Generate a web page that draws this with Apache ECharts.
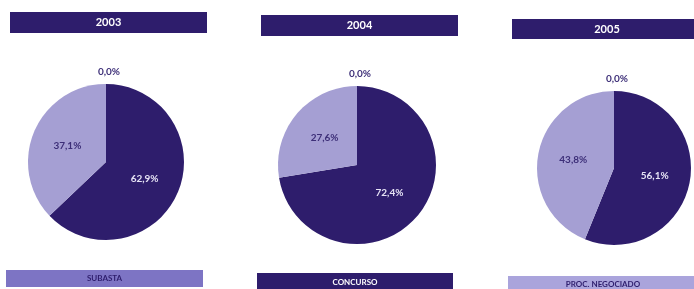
<!DOCTYPE html>
<html>
<head>
<meta charset="utf-8">
<script src="https://cdn.jsdelivr.net/npm/echarts@6/dist/echarts.min.js"></script>
<style>
  html, body { margin: 0; padding: 0; background: #fff; }
  #chart { width: 694px; height: 289px; }
</style>
</head>
<body>
<div id="chart"></div>
<script>
// data (percent)
const years = ['2003', '2004', '2005'];
const categories = ['CONCURSO', 'SUBASTA', 'PROC. NEGOCIADO'];
const concurso = [62.9, 72.4, 56.1];
const subasta = [37.1, 27.6, 43.8];
const negociado = [0.0, 0.0, 0.0];

const DARK = '#2e1d6c';
const LIGHT = '#a59fd3';
const FONT = 'Lato, "Open Sans", sans-serif';

const centers = [[106, 162], [357, 165], [614, 168]];
const radii = [78, 79, 77];
const titleBoxes = [[10, 12, 197, 21], [261, 15, 197, 21], [512, 19, 190, 20]];
const legendBoxes = [
  { name: 'SUBASTA', box: [6, 270, 197, 17], fill: '#7d74c4', color: DARK },
  { name: 'CONCURSO', box: [257, 273, 196, 18], fill: DARK, color: '#fff' },
  { name: 'PROC. NEGOCIADO', box: [508, 276, 190, 16], fill: '#aaa4dc', color: DARK }
];

const fmt = v => v.toFixed(1).replace('.', ',') + '%';

const chart = echarts.init(document.getElementById('chart'));

const series = years.map((y, i) => ({
  type: 'pie',
  name: y,
  center: centers[i],
  radius: radii[i],
  startAngle: 90,
  clockwise: true,
  silent: true,
  avoidLabelOverlap: false,
  minShowLabelAngle: 0,
  label: {
    show: true,
    position: 'inside',
    formatter: p => fmt(p.value),
    fontFamily: FONT,
    fontSize: 10,
    fontWeight: 'bold'
  },
  labelLine: { show: false },
  labelLayout: p => p.dataIndex === 2
    ? { x: centers[i][0] + 3, y: centers[i][1] - radii[i] - 12, align: 'center', verticalAlign: 'middle' }
    : {},
  data: [
    { name: categories[0], value: concurso[i], itemStyle: { color: DARK }, label: { color: '#e6e3f5' } },
    { name: categories[1], value: subasta[i], itemStyle: { color: LIGHT }, label: { color: '#3d2f78' } },
    { name: categories[2], value: negociado[i], itemStyle: { color: '#aaa4dc' },
      label: { color: '#3d2f78', position: 'outside' } }
  ]
}));

const graphics = [];
years.forEach((y, i) => {
  const b = titleBoxes[i];
  graphics.push({
    type: 'rect',
    shape: { x: b[0], y: b[1], width: b[2], height: b[3] },
    style: { fill: DARK },
    textContent: { style: { text: y, fill: '#fff', font: 'bold 11px ' + FONT } },
    textConfig: { position: 'inside' }
  });
});
legendBoxes.forEach(l => {
  graphics.push({
    type: 'rect',
    shape: { x: l.box[0], y: l.box[1], width: l.box[2], height: l.box[3] },
    style: { fill: l.fill },
    textContent: { style: { text: l.name, fill: l.color, font: 'bold 8px ' + FONT } },
    textConfig: { position: 'inside' }
  });
});

chart.setOption({
  backgroundColor: '#fff',
  animation: false,
  graphic: graphics,
  series: series
});
</script>
</body>
</html>
